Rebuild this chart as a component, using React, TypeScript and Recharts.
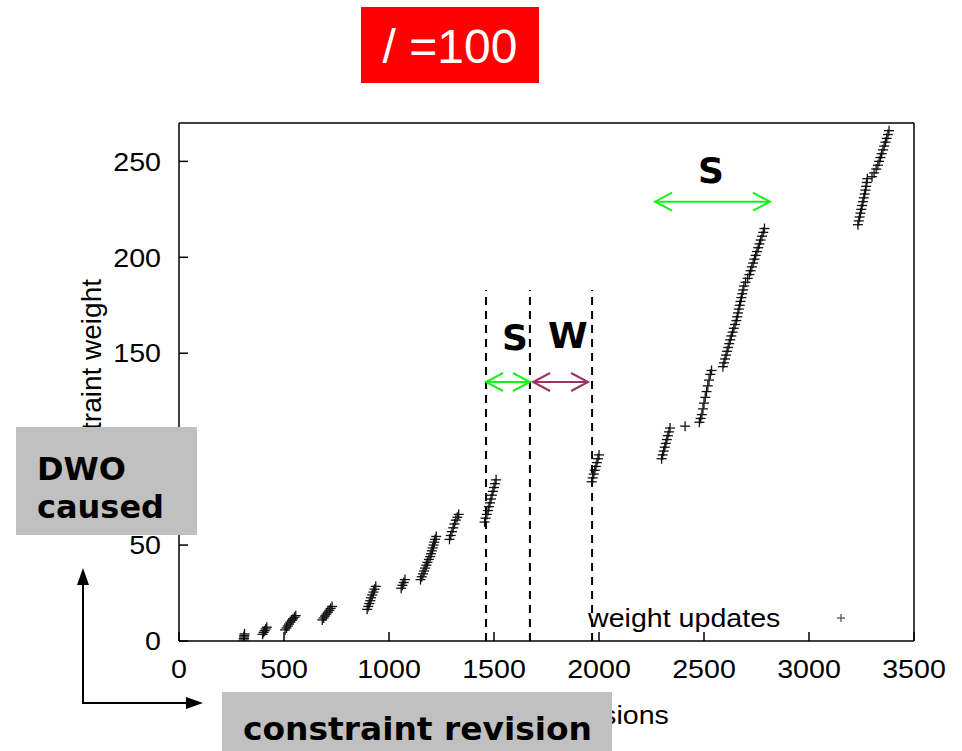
import React from 'react';
import {
  ScatterChart,
  Scatter,
  XAxis,
  YAxis,
  ReferenceLine,
  ReferenceDot,
  Legend,
} from 'recharts';

// axis ticks
const xTicks = [0, 500, 1000, 1500, 2000, 2500, 3000, 3500];
const yTicks = [0, 50, 100, 150, 200, 250];

// weight updates, [revision, weight], read cluster by cluster
const run1 = [[308, 0.5], [309, 1.3], [310, 2.1], [311, 2.9], [312, 3.7]];
const run2 = [[398, 3.5], [403, 4.5], [408, 5.4], [413, 6.3], [418, 7.2]];
const run3 = [[505, 5.8], [512, 6.8], [518, 7.8], [524, 8.8], [530, 9.8], [537, 10.8], [543, 11.6], [550, 12.4], [556, 13.2]];
const run4 = [[682, 11], [689, 12], [695, 13], [702, 14], [709, 15], [716, 16], [722, 17], [729, 18]];
const run5 = [[896, 16.5], [901, 18], [906, 19.5], [911, 21], [915, 22.5], [920, 24], [926, 25.5], [931, 27], [937, 28.5]];
const run6 = [[1058, 27.5], [1064, 29], [1070, 30.5], [1076, 32]];
const run7 = [[1150, 32], [1156, 33.5], [1162, 35], [1167, 36.5], [1172, 38], [1178, 39.5], [1183, 41], [1190, 42.5], [1196, 44], [1200, 45.5], [1204, 47], [1208, 48.5], [1212, 50], [1216, 51.5], [1220, 53], [1225, 54.5]];
const run8 = [[1288, 53], [1294, 55], [1300, 57], [1306, 59], [1312, 61], [1318, 63], [1325, 64.5], [1332, 66]];
const run9 = [[1455, 62], [1460, 64], [1466, 66], [1472, 68], [1476, 70], [1481, 72], [1486, 74], [1490, 76], [1495, 78], [1500, 80], [1505, 82], [1510, 84]];
const run10 = [[1965, 83], [1970, 85], [1975, 87], [1980, 89], [1985, 91], [1990, 93], [1995, 95], [2000, 97]];
const run11 = [[2298, 95], [2303, 97], [2308, 99], [2313, 101], [2318, 103], [2323, 105], [2328, 107], [2333, 109], [2338, 111], [2410, 112]];
const run12 = [[2478, 114], [2484, 116], [2490, 118], [2495, 121], [2500, 124], [2506, 127], [2512, 130], [2518, 133], [2524, 136], [2530, 139], [2536, 141]];
const run13 = [
  [2590, 143], [2595, 145], [2600, 147], [2605, 149], [2610, 151], [2615, 153], [2620, 155], [2625, 157],
  [2630, 159], [2636, 161], [2642, 163], [2648, 165], [2654, 167], [2658, 169], [2662, 171], [2666, 173],
  [2670, 175], [2674, 177], [2678, 179], [2682, 181], [2686, 183], [2690, 185], [2698, 187], [2708, 189],
  [2716, 191], [2722, 193], [2728, 195], [2734, 197], [2740, 199], [2746, 201], [2752, 203], [2758, 205],
  [2764, 207], [2770, 209], [2776, 211], [2782, 213], [2788, 215],
];
const run14 = [
  [3233, 217], [3237, 219], [3241, 221], [3245, 223], [3249, 225], [3253, 227], [3257, 229], [3261, 231],
  [3265, 233], [3269, 235], [3272, 237], [3275, 239], [3278, 241], [3300, 242], [3310, 244], [3320, 246],
  [3328, 248], [3334, 250], [3340, 252], [3346, 254], [3352, 256], [3358, 258], [3364, 260], [3370, 262],
  [3376, 264], [3381, 266],
];

// phase boundaries (dashed), span arrows and their letters
const phaseBounds = [1462, 1671, 1967];
const boundTop = 183;
const spans = [
  { from: 1462, to: 1671, at: 135 },
  { from: 1686, to: 1948, at: 135 },
  { from: 2267, to: 2814, at: 229 },
];
const phaseLabels = [
  { text: 'S', rev: 1600, w: 158 },
  { text: 'W', rev: 1852, w: 159 },
  { text: 'S', rev: 2533, w: 245 },
];

const updates = [run1, run2, run3, run4, run5, run6, run7, run8, run9, run10, run11, run12, run13, run14]
  .flat()
  .map(([rev, weight]) => ({ rev, weight }));

const spanColors = ['#19f019', '#993366', '#19f019'];
const tickFont = '"Liberation Sans", Arial, sans-serif';
const boldFont = '"DejaVu Sans", Verdana, sans-serif';

const axisLine = { stroke: '#000', strokeWidth: 1.5 };

function Plus({ cx, cy, size = 5, color = '#111' }: any) {
  return (
    <g stroke={color} strokeWidth={1.3}>
      <line x1={cx - size} x2={cx + size} y1={cy} y2={cy} />
      <line x1={cx} x2={cx} y1={cy - size} y2={cy + size} />
    </g>
  );
}

function XTick({ x, y, payload }: any) {
  return (
    <text
      x={0}
      y={0}
      dy="0.71em"
      textAnchor="middle"
      fontSize={26}
      fontFamily={tickFont}
      fill="#000"
      transform={`translate(${x},${y}) scale(1.1,1)`}
    >
      {payload.value}
    </text>
  );
}

function YTick({ x, y, payload }: any) {
  return (
    <text
      x={0}
      y={0}
      dy="0.355em"
      textAnchor="end"
      fontSize={26}
      fontFamily={tickFont}
      fill="#000"
      transform={`translate(${x},${y}) scale(1.1,1)`}
    >
      {payload.value}
    </text>
  );
}

function spanArrow(color: string) {
  return (p: any) => {
    const { x1, x2, y1 } = p;
    const left = Math.min(x1, x2);
    const right = Math.max(x1, x2);
    const L = 17;
    const H = 9;
    return (
      <g stroke={color} strokeWidth={2} fill="none">
        <line x1={left} x2={right} y1={y1} y2={y1} />
        <polyline points={`${left + L},${y1 - H} ${left},${y1} ${left + L},${y1 + H}`} />
        <polyline points={`${right - L},${y1 - H} ${right},${y1} ${right - L},${y1 + H}`} />
      </g>
    );
  };
}

function renderLegend() {
  return (
    <div style={{ position: 'relative', width: 280, height: 32 }}>
      <span
        style={{
          position: 'absolute',
          left: 0,
          top: 0,
          fontFamily: tickFont,
          fontSize: 26,
          lineHeight: '32px',
          whiteSpace: 'nowrap',
          transform: 'scaleX(1.1)',
          transformOrigin: 'left center',
        }}
      >
        weight updates
      </span>
      <svg style={{ position: 'absolute', left: 243, top: 6 }} width={20} height={20}>
        <Plus cx={10} cy={10} size={4} color="#555" />
      </svg>
    </div>
  );
}

export default function App() {
  return (
    <div
      style={{
        position: 'absolute',
        left: 0,
        top: 0,
        width: 962,
        height: 751,
        background: '#fff',
        overflow: 'hidden',
      }}
    >
      <ScatterChart width={962} height={751} margin={{ top: 122, right: 47, bottom: 80, left: 119 }}>
        <XAxis
          dataKey="rev"
          type="number"
          domain={[0, 3500]}
          ticks={xTicks}
          allowDataOverflow
          height={30}
          axisLine={axisLine}
          tickLine={axisLine}
          tickSize={-9}
          tickMargin={28}
          tick={<XTick />}
          label={{
            value: 'constraint revisions',
            position: 'insideBottom',
            content: ({ viewBox }: any) => (
              <text
                x={0}
                y={0}
                textAnchor="middle"
                fontSize={26}
                fontFamily={tickFont}
                fill="#000"
                transform={`translate(${viewBox.x + viewBox.width / 2},${viewBox.y + 83}) scale(1.1,1)`}
              >
                constraint revisions
              </text>
            ),
          }}
        />
        <XAxis
          xAxisId="top"
          orientation="top"
          dataKey="rev"
          type="number"
          domain={[0, 3500]}
          ticks={xTicks}
          allowDataOverflow
          height={1}
          axisLine={axisLine}
          tickLine={axisLine}
          tickSize={-9}
          tick={false}
        />
        <YAxis
          dataKey="weight"
          type="number"
          domain={[0, 270]}
          ticks={yTicks}
          allowDataOverflow
          width={60}
          axisLine={axisLine}
          tickLine={axisLine}
          tickSize={-9}
          tickMargin={27}
          tick={<YTick />}
          label={{
            value: 'constraint weight',
            content: ({ viewBox }: any) => (
              <text
                x={0}
                y={0}
                textAnchor="end"
                fontSize={28}
                fontFamily={tickFont}
                fill="#000"
                transform={`translate(${viewBox.x - 18},${viewBox.y + 156}) rotate(-90)`}
              >
                constraint weight
              </text>
            ),
          }}
        />
        <YAxis
          yAxisId="right"
          orientation="right"
          dataKey="weight"
          type="number"
          domain={[0, 270]}
          ticks={yTicks}
          allowDataOverflow
          width={1}
          axisLine={axisLine}
          tickLine={axisLine}
          tickSize={-9}
          tick={false}
        />

        {phaseBounds.map((b) => (
          <ReferenceLine
            key={`b${b}`}
            segment={[{ x: b, y: 0 }, { x: b, y: boundTop }]}
            stroke="#000"
            strokeWidth={2}
            strokeDasharray="8 6"
          />
        ))}
        {spans.map((s, i) => (
          <ReferenceLine
            key={`s${i}`}
            segment={[{ x: s.from, y: s.at }, { x: s.to, y: s.at }]}
            shape={spanArrow(spanColors[i])}
          />
        ))}
        {phaseLabels.map((l, i) => (
          <ReferenceDot
            key={`l${i}`}
            x={l.rev}
            y={l.w}
            r={0}
            shape={(p: any) => (
              <text
                x={p.cx}
                y={p.cy}
                textAnchor="middle"
                dominantBaseline="central"
                fontSize={36}
                fontWeight="bold"
                fontFamily={boldFont}
                fill="#000"
              >
                {l.text}
              </text>
            )}
          />
        ))}

        {/* same series on the mirrored frame axes, drawn invisibly so the frame shows */}
        <Scatter
          xAxisId="top"
          yAxisId="right"
          data={updates}
          isAnimationActive={false}
          legendType="none"
          shape={() => <g />}
        />
        <Scatter
          name="weight updates"
          data={updates}
          isAnimationActive={false}
          shape={(p: any) => <Plus cx={p.cx} cy={p.cy} />}
        />
        <Legend
          layout="horizontal"
          verticalAlign="middle"
          align="center"
          content={renderLegend}
          wrapperStyle={{ position: 'absolute', left: 588, top: 602, width: 280 }}
        />
      </ScatterChart>

      {/* slide annotations drawn over the plot */}
      <svg
        width={962}
        height={751}
        style={{ position: 'absolute', left: 0, top: 0, pointerEvents: 'none' }}
      >
        <rect x={361} y={7} width={178} height={76} fill="#ff0000" />
        <text x={450} y={63} textAnchor="middle" fontSize={48} fontFamily={tickFont} fill="#fff">
          / =100
        </text>

        <rect x={16} y={427} width={181} height={108} fill="#c0c0c0" />
        <text x={37} y={480} fontSize={32} fontWeight="bold" fontFamily={boldFont} fill="#000">
          DWO
        </text>
        <text x={37} y={518} fontSize={32} fontWeight="bold" fontFamily={boldFont} fill="#000">
          caused
        </text>

        <rect x={222} y={692} width={390} height={70} fill="#c0c0c0" />
        <text
          x={243}
          y={740}
          fontSize={32}
          fontWeight="bold"
          fontFamily={boldFont}
          fill="#000"
          textLength={349}
          lengthAdjust="spacingAndGlyphs"
        >
          constraint revision
        </text>

        <g stroke="#000" strokeWidth={2}>
          <line x1={83} y1={704} x2={83} y2={584} />
          <line x1={82} y1={703} x2={189} y2={703} />
        </g>
        <polygon points="83,568 77,585 89,585" fill="#000" />
        <polygon points="203,703 186,697 186,709" fill="#000" />
      </svg>
    </div>
  );
}
